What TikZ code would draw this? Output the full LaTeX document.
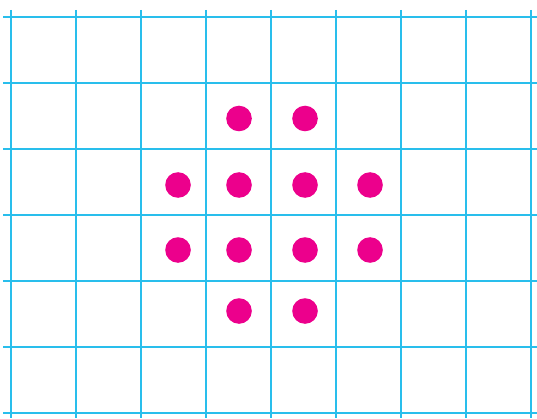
\documentclass[tikz,border=0pt]{standalone}
\definecolor{gridcyan}{RGB}{41,190,236}
\definecolor{dotmag}{RGB}{236,0,140}
\begin{document}
\begin{tikzpicture}[x=1pt,y=1pt,
  gridline/.style={draw=gridcyan,line width=2pt},
  dotfill/.style={fill=dotmag}]
\useasboundingbox (0,0) rectangle (537,418);
% horizontal lines (y from top)
\foreach \py in {17,83,149,215,281,347,413}
  \draw[gridline] (3,418-\py) -- (537,418-\py);
% vertical lines
\foreach \px in {11,76,141,206,271,336,401,466,531}
  \draw[gridline] (\px,418-10) -- (\px,0);
% dots
\foreach \px/\py in {239/118.5,305/118.5,
  178/185,239/185,305/185,370/185,
  178/250,239/250,305/250,370/250,
  239/311,305/311}
  \fill[dotfill] (\px,418-\py) circle (12.8);
\end{tikzpicture}
\end{document}
